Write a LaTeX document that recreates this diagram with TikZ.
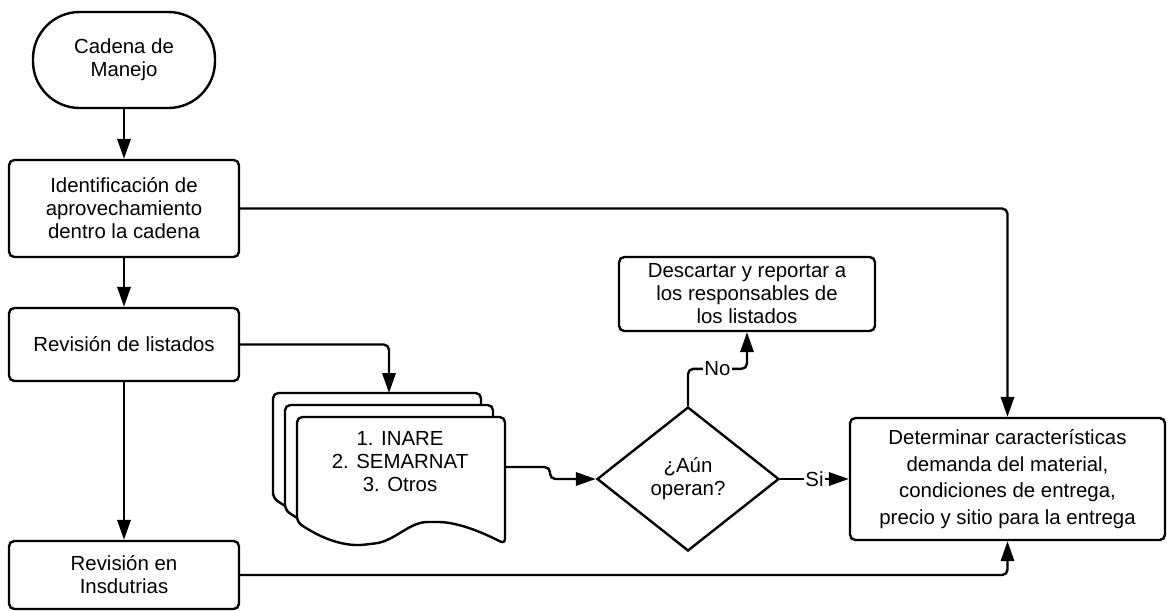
\documentclass[tikz,border=0pt]{standalone}
\usepackage{fontspec}
\setmainfont{Liberation Sans}
\usetikzlibrary{arrows.meta,shapes.geometric}

\begin{document}
\begin{tikzpicture}[x=0.75pt, y=-0.75pt, align=center, line width=1.8pt,
		font=\fontsize{15.3}{17.25}\selectfont,
		caja/.style={draw, rounded corners=4pt, inner sep=0pt},
		terminal/.style={draw, rounded corners=35pt, inner sep=0pt, minimum width=136.5pt, minimum height=72pt},
		decision/.style={draw, diamond, inner sep=0pt, minimum width=136.5pt, minimum height=108pt},
		flecha/.style={-{Triangle[length=15pt,width=10pt]}, rounded corners=4pt},
		etiqueta/.style={fill=white, inner sep=1pt},
		hoja/.style={draw, fill=white, rounded corners=4pt}]
		
		\useasboundingbox (0,0) rectangle (1167,611);
		
		\node (cadena) at (124,60) [terminal] {Cadena de\\Manejo};
		\node (identif) at (124,208.5) [caja, minimum width=172.5pt, minimum height=72.75pt] {Identificación de\\aprovechamiento\\dentro la cadena};
		\node (listados) at (124,344.5) [caja, minimum width=172.5pt, minimum height=54.75pt] {Revisión de listados};
		\node (industrias) at (124,575) [caja, minimum width=172.5pt, minimum height=51pt] {Revisión en\\Insdutrias};
		
		\foreach \d in {0,12,24}
			\draw[hoja, shift={(273+\d,393+\d)}] (0,105) -- (0,0) -- (208,0) -- (208,127)
				.. controls (185,115) and (160,105) .. (136,105)
				.. controls (112,105) and (98,124) .. (73,127)
				.. controls (48,130) and (25,122) .. (0,105) -- cycle;
		\node (listas) at (400,462) {1. INARE\\2. SEMARNAT\\3. Otros};
		\coordinate (hojaArriba) at (389,393);
		\coordinate (hojaDerecha) at (505,467);
		
		\node (aun) at (688,479) [decision] {¿Aún\\operan?};
		\node (descartar) at (747,294) [caja, minimum width=192pt, minimum height=55.5pt] {Descartar y reportar a\\los responsables de\\los listados};
		\node (determinar) at (1007.5,479) [caja, minimum width=236.25pt, minimum height=91.5pt, font=\fontsize{15.3}{19.9}\selectfont] {Determinar características\\demanda del material,\\condiciones de entrega,\\precio y sitio para la entrega};
		
		\draw[flecha] (cadena) -- (identif);
		\draw[flecha] (identif) -- (listados);
		\draw[flecha] (listados) -- (industrias);
		\draw[flecha] (listados.east) -| (hojaArriba);
		\draw[flecha] (hojaDerecha) -- ++(45,0) |- (aun.west);
		\draw[flecha] (aun.north) -- ++(0,-37) -| node[pos=0.25, etiqueta] {No} (descartar.south);
		\draw[flecha] (aun.east) -- node[etiqueta] {Si} (determinar.west);
		\draw[flecha] (identif.east) -| (determinar.north);
		\draw[flecha] (industrias.east) -| (determinar.south);
	\end{tikzpicture}
\end{document}
